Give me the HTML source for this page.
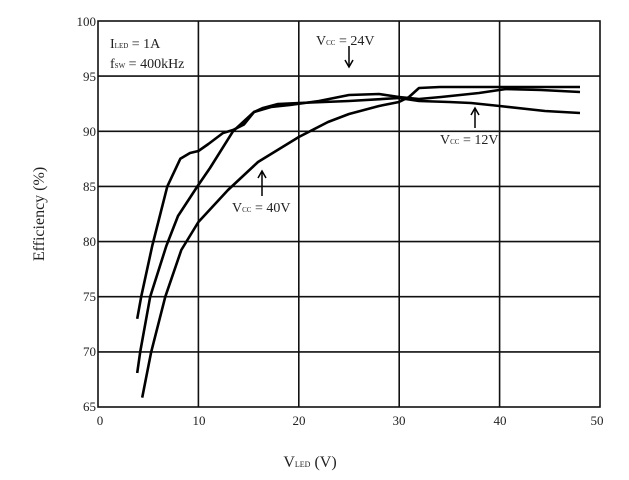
<!DOCTYPE html>
<html><head><style>body{margin:0;background:#fff}svg{display:block}text{font-family:"Liberation Serif",serif;fill:#222}</style></head>
<body>
<svg width="629" height="480" viewBox="0 0 629 480" xmlns="http://www.w3.org/2000/svg">
<g stroke="#111" stroke-width="1.6" fill="none">
<rect x="98" y="21" width="502" height="386"/>
<line x1="198.4" y1="21" x2="198.4" y2="407"/><line x1="298.8" y1="21" x2="298.8" y2="407"/>
<line x1="399.2" y1="21" x2="399.2" y2="407"/><line x1="499.6" y1="21" x2="499.6" y2="407"/>
<line x1="98" y1="76.1" x2="600" y2="76.1"/><line x1="98" y1="131.3" x2="600" y2="131.3"/>
<line x1="98" y1="186.4" x2="600" y2="186.4"/><line x1="98" y1="241.6" x2="600" y2="241.6"/>
<line x1="98" y1="296.7" x2="600" y2="296.7"/><line x1="98" y1="351.9" x2="600" y2="351.9"/>
</g>
<g stroke="#000" stroke-width="2.6" fill="none" stroke-linejoin="round">
<polyline points="137.2,318.8 141.2,296.7 152.2,246 167.3,186.4 180.3,158.8 190,153 198.4,151 208.4,144 223,133 233,130 244,124.5 254,112 263,108 278,104 298.8,103 349,101 399,98 419,101 449,102 471,103 499.6,106 545,111 580,113 580,113"/>
<polyline points="137.2,373 140.2,351.9 150.2,296.7 166.3,246 178,216 197.4,186.4 210,168 233,131.3 254,112 271,107 290,105 319,101 349,95 379,94 399,97 419,99 441,97 479,93 506,89 541,90 580,92"/>
<polyline points="142.2,397.6 151.2,351.9 165.3,296.7 181.3,250 198.4,222 228,190 258,162 298.8,137 328,122 349,114 379,106 399,102 409,97 419,88 440,87 500,87 580,87"/>
</g>
<g stroke="#000" stroke-width="1.5" fill="none">
<line x1="349" y1="46" x2="349" y2="66"/><polyline points="345,60 349,67 353,60"/>
<line x1="475" y1="128" x2="475" y2="109"/><polyline points="471,115 475,108 479,115"/>
<line x1="262" y1="196" x2="262" y2="172"/><polyline points="258,178 262,171 266,178"/>
</g>
<g font-size="14">
<text x="110" y="48">I<tspan font-size="7">LED</tspan> = 1A</text>
<text x="110" y="68">f<tspan font-size="7">SW</tspan> = 400kHz</text>
<text x="316" y="45">V<tspan font-size="7">CC</tspan> = 24V</text>
<text x="440" y="144">V<tspan font-size="7">CC</tspan> = 12V</text>
<text x="232" y="212">V<tspan font-size="7">CC</tspan> = 40V</text>
</g>
<g font-size="13" text-anchor="end">
<text x="96" y="26">100</text><text x="96" y="81">95</text><text x="96" y="136">90</text>
<text x="96" y="191">85</text><text x="96" y="246">80</text><text x="96" y="301">75</text>
<text x="96" y="356">70</text><text x="96" y="411">65</text>
</g>
<g font-size="13" text-anchor="middle">
<text x="100" y="425">0</text><text x="199" y="425">10</text><text x="299" y="425">20</text>
<text x="399" y="425">30</text><text x="500" y="425">40</text><text x="597" y="425">50</text>
</g>
<text x="310" y="467" font-size="16" text-anchor="middle">V<tspan font-size="8">LED</tspan> (V)</text>
<text transform="translate(44,214) rotate(-90)" font-size="16" text-anchor="middle">Efficiency (%)</text>
</svg>
</body></html>
